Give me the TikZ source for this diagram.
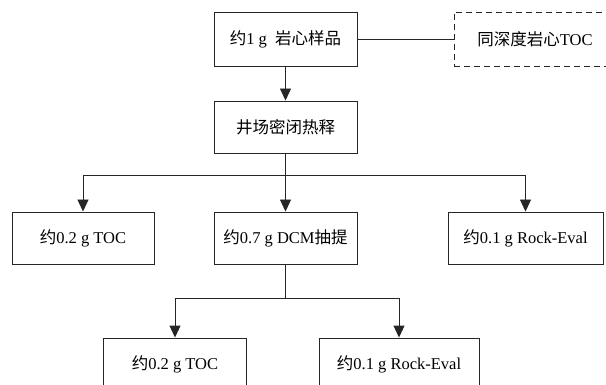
\documentclass[tikz,border=0pt]{standalone}
\usepackage{fontspec}
\setmainfont{Liberation Serif}
\newfontfamily\cjk{Noto Sans CJK SC}
\usetikzlibrary{arrows.meta}
\begin{document}
\begin{tikzpicture}[x=1pt,y=-1pt,
  box/.style={draw=black!85,line width=0.9pt,minimum height=52pt,inner sep=0pt,align=center,
    font=\fontsize{16.5}{19}\selectfont},
  dbox/.style={box,dashed,dash pattern=on 6pt off 4pt},
  conn/.style={draw=black!85,line width=0.9pt},
  arr/.style={conn,-{Triangle[width=11pt,length=12pt]}}]
\useasboundingbox (0,0) rectangle (606,385);
\clip (0,0) rectangle (606,385);
\node[box,minimum width=143pt,minimum height=54pt] (A) at (285.5,39) {{\cjk 约}1 g\ \ {\cjk 岩心样品}};
\node[dbox,minimum width=162pt,minimum height=54pt] (T) at (535,39) {{\cjk 同深度岩心}TOC};
\node[box,minimum width=143pt] (B) at (285.5,127) {\cjk 井场密闭热释};
\node[box,minimum width=142pt] (C) at (83,238) {{\cjk 约}0.2 g TOC};
\node[box,minimum width=143pt] (D) at (285.5,238) {{\cjk 约}0.7 g DCM{\cjk 抽提}};
\node[box,minimum width=155pt] (E) at (525.5,238) {{\cjk 约}0.1 g Rock-Eval};
\node[box,minimum width=143pt] (F) at (175,364) {{\cjk 约}0.2 g TOC};
\node[box,minimum width=160pt] (G) at (399,364) {{\cjk 约}0.1 g Rock-Eval};
\coordinate (b1) at (285.5,175);
\coordinate (b2) at (285.5,298);
\draw[conn] (A.east) -- (T.west);
\draw[arr] (A) -- (B);
\draw[arr] (B) -- (D);
\draw[arr] (b1) -| (C.north);
\draw[arr] (b1) -| (E.north);
\draw[conn] (D.south) -- (b2);
\draw[arr] (b2) -| (F.north);
\draw[arr] (b2) -| (G.north);
\end{tikzpicture}
\end{document}
